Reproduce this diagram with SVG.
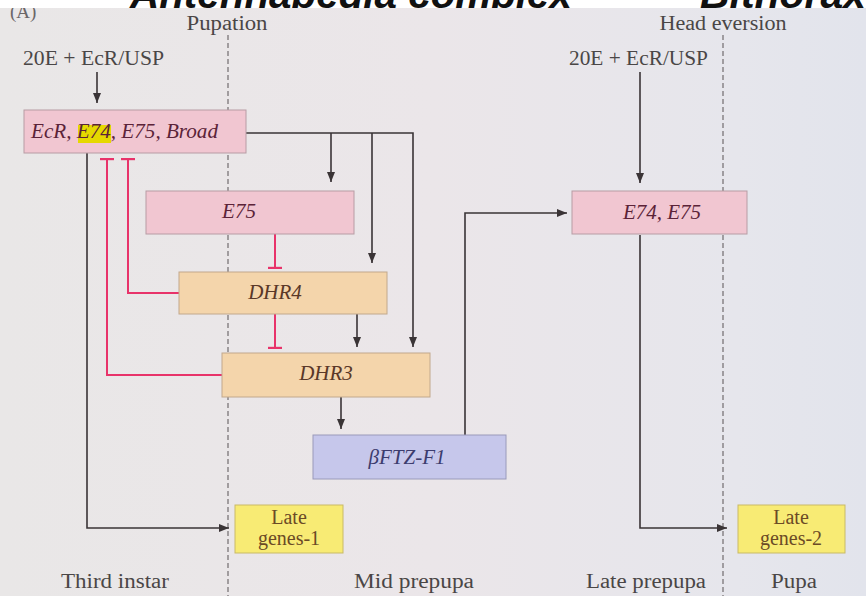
<svg xmlns="http://www.w3.org/2000/svg" width="866" height="596" viewBox="0 0 866 596">
  <defs>
    <linearGradient id="panel" x1="0" y1="0" x2="1" y2="0">
      <stop offset="0" stop-color="#e9e7e7"/>
      <stop offset="0.5" stop-color="#ebe6e9"/>
      <stop offset="0.85" stop-color="#e6e6ec"/>
      <stop offset="1" stop-color="#e2e4ec"/>
    </linearGradient>
    <clipPath id="banner-clip">
      <rect x="0" y="0" width="866" height="8"/>
    </clipPath>
    <marker id="arrow" viewBox="0 0 10 8" refX="10" refY="4" markerWidth="10" markerHeight="8" markerUnits="userSpaceOnUse" orient="auto">
      <path d="M0,0 L10,4 L0,8 Z" fill="#3a3436"/>
    </marker>
    <marker id="tbar" viewBox="0 0 4 14" refX="2" refY="7" markerWidth="4" markerHeight="14" markerUnits="userSpaceOnUse" orient="auto">
      <rect x="0.8" y="0" width="2.2" height="14" fill="#e8336a"/>
    </marker>
  </defs>
  <style>
    .lbl { font-family: "Liberation Serif", "Times New Roman", serif; font-size: 20px; fill: #4a4646; }
    .box-text { font-family: "Liberation Serif", "Times New Roman", serif; font-style: italic; font-size: 21px; }
    .gene-text { font-family: "Liberation Serif", "Times New Roman", serif; font-size: 20px; fill: #6b4a26; }
    .pink { fill: #f1c6d1; stroke: #b79ca4; stroke-width: 1; }
    .tan { fill: #f4d5ab; stroke: #c2a88c; stroke-width: 1; }
    .blue { fill: #c6c7eb; stroke: #9a9aba; stroke-width: 1; }
    .yellow { fill: #f8eb74; stroke: #c9ba66; stroke-width: 1; }
    .act { fill: none; stroke: #3a3436; stroke-width: 1.6; }
    .inh { fill: none; stroke: #e8336a; stroke-width: 2; }
    .stage { fill: none; stroke: #7a7678; stroke-width: 1.3; stroke-dasharray: 5 3; }
  </style>

  <!-- page background -->
  <rect x="0" y="0" width="866" height="596" fill="url(#panel)"/>
  <text x="10" y="18" font-family="Liberation Serif, serif" font-size="19" fill="#6a6668">(A)</text>
  <rect x="0" y="0" width="866" height="8" fill="#ffffff"/>
  <g clip-path="url(#banner-clip)" font-family="Liberation Sans, Arial, sans-serif" font-weight="bold" font-style="italic" font-size="40" fill="#111111">
    <text x="130" y="7.5" textLength="442" lengthAdjust="spacingAndGlyphs">Antennapedia complex</text>
    <text x="700" y="7.5" textLength="166" lengthAdjust="spacingAndGlyphs">Bithorax</text>
  </g>

  <!-- stage boundaries -->
  <g id="stage-lines">
    <line class="stage" x1="228" y1="35" x2="228" y2="596"/>
    <line class="stage" x1="723" y1="35" x2="723" y2="596"/>
  </g>

  <!-- stage and input labels -->
  <g id="labels">
    <text class="lbl" x="227" y="30" text-anchor="middle" textLength="81" lengthAdjust="spacingAndGlyphs">Pupation</text>
    <text class="lbl" x="723" y="30" text-anchor="middle" textLength="127" lengthAdjust="spacingAndGlyphs">Head eversion</text>
    <text class="lbl" x="23" y="65" textLength="141" lengthAdjust="spacingAndGlyphs">20E + EcR/USP</text>
    <text class="lbl" x="569" y="65" textLength="139" lengthAdjust="spacingAndGlyphs">20E + EcR/USP</text>
    <text class="lbl" x="115" y="588" text-anchor="middle" textLength="108" lengthAdjust="spacingAndGlyphs">Third instar</text>
    <text class="lbl" x="414" y="588" text-anchor="middle" textLength="120" lengthAdjust="spacingAndGlyphs">Mid prepupa</text>
    <text class="lbl" x="646" y="588" text-anchor="middle" textLength="120" lengthAdjust="spacingAndGlyphs">Late prepupa</text>
    <text class="lbl" x="794" y="588" text-anchor="middle" textLength="46" lengthAdjust="spacingAndGlyphs">Pupa</text>
  </g>

  <!-- connectors -->
  <g id="connectors">
    <line class="act" x1="97" y1="72" x2="97" y2="103" marker-end="url(#arrow)"/>
    <polyline class="act" points="246,133 413,133 413,347" marker-end="url(#arrow)"/>
    <line class="act" x1="331" y1="133" x2="331" y2="182" marker-end="url(#arrow)"/>
    <line class="act" x1="372" y1="133" x2="372" y2="263" marker-end="url(#arrow)"/>
    <line class="act" x1="357" y1="314" x2="357" y2="347" marker-end="url(#arrow)"/>
    <line class="act" x1="341" y1="397" x2="341" y2="429" marker-end="url(#arrow)"/>
    <polyline class="act" points="465,435 465,213 567,213" marker-end="url(#arrow)"/>
    <line class="act" x1="640" y1="72" x2="640" y2="183" marker-end="url(#arrow)"/>
    <polyline class="act" points="640,235 640,528 727,528" marker-end="url(#arrow)"/>
    <polyline class="act" points="87,153 87,528 229,528" marker-end="url(#arrow)"/>

    <line class="inh" x1="275" y1="234" x2="275" y2="268" marker-end="url(#tbar)"/>
    <line class="inh" x1="275" y1="314" x2="275" y2="348" marker-end="url(#tbar)"/>
    <polyline class="inh" points="179,293 128,293 128,159" marker-end="url(#tbar)"/>
    <polyline class="inh" points="222,375 107,375 107,159" marker-end="url(#tbar)"/>
  </g>

  <!-- gene nodes -->
  <g id="early-genes">
    <rect class="pink" x="24" y="110" width="222" height="43"/>
    <rect x="78" y="125" width="33" height="18" fill="#e6d800"/>
    <text class="box-text" x="31" y="138" fill="#5b2338" textLength="187" lengthAdjust="spacingAndGlyphs">EcR, E74, E75, Broad</text>
  </g>
  <g id="e75">
    <rect class="pink" x="146" y="191" width="208" height="43"/>
    <text class="box-text" x="239" y="218" text-anchor="middle" fill="#5b2338">E75</text>
  </g>
  <g id="dhr4">
    <rect class="tan" x="179" y="272" width="208" height="42"/>
    <text class="box-text" x="275" y="299" text-anchor="middle" fill="#5a3828">DHR4</text>
  </g>
  <g id="dhr3">
    <rect class="tan" x="222" y="353" width="208" height="44"/>
    <text class="box-text" x="326" y="380" text-anchor="middle" fill="#5a3828">DHR3</text>
  </g>
  <g id="bftz-f1">
    <rect class="blue" x="313" y="435" width="193" height="44"/>
    <text class="box-text" x="407" y="464" text-anchor="middle" fill="#3c3c6e">βFTZ-F1</text>
  </g>
  <g id="e74-e75">
    <rect class="pink" x="572" y="191" width="175" height="43"/>
    <text class="box-text" x="662" y="219" text-anchor="middle" fill="#5b2338">E74, E75</text>
  </g>
  <g id="late-genes-1">
    <rect class="yellow" x="235" y="505" width="108" height="48"/>
    <text class="gene-text" x="289" y="524" text-anchor="middle">Late</text>
    <text class="gene-text" x="289" y="545" text-anchor="middle">genes-1</text>
  </g>
  <g id="late-genes-2">
    <rect class="yellow" x="738" y="505" width="107" height="48"/>
    <text class="gene-text" x="791" y="524" text-anchor="middle">Late</text>
    <text class="gene-text" x="791" y="545" text-anchor="middle">genes-2</text>
  </g>
</svg>
